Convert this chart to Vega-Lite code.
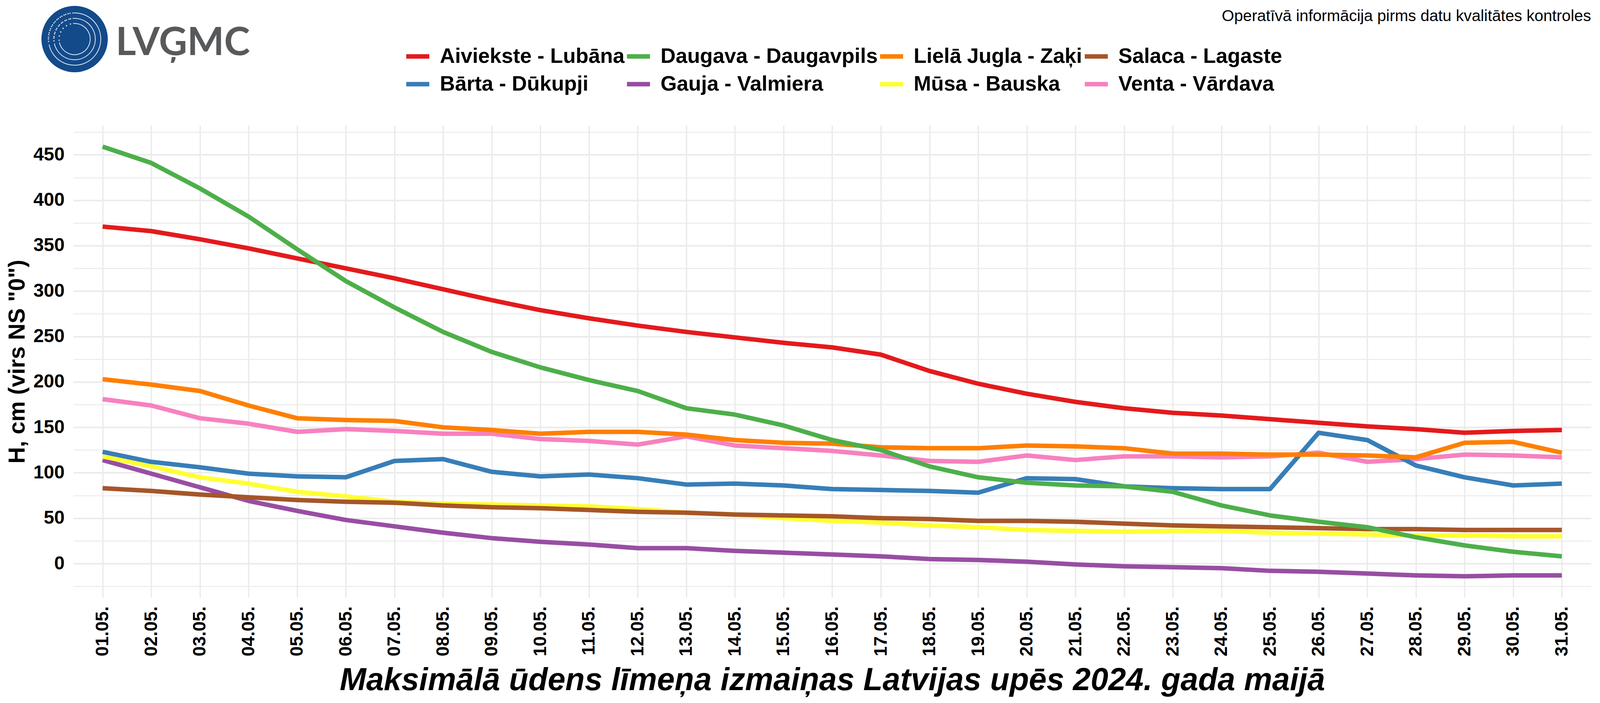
{
"$schema":"https://vega.github.io/schema/vega-lite/v6.json",
"autosize":{"type":"none"},
"padding":{"left":188,"top":321,"right":23,"bottom":270},
"width":3885,
"height":1209,
"background":"white",
"config":{"view":{"stroke":null},"font":"Liberation Sans"},
"title":{"text":"Operatīvā informācija pirms datu kvalitātes kontroles","anchor":"end","frame":"group","fontSize":40.7,"fontWeight":"normal","color":"black","offset":-48},
"resolve":{"axis":{"x":"independent","y":"independent"}},
"layer":[
{"data":{"values":[
{"day":1,"river":"Aiviekste - Lubāna","H":371},{"day":2,"river":"Aiviekste - Lubāna","H":366},{"day":3,"river":"Aiviekste - Lubāna","H":357},{"day":4,"river":"Aiviekste - Lubāna","H":347},{"day":5,"river":"Aiviekste - Lubāna","H":336},{"day":6,"river":"Aiviekste - Lubāna","H":325},{"day":7,"river":"Aiviekste - Lubāna","H":314},{"day":8,"river":"Aiviekste - Lubāna","H":302},{"day":9,"river":"Aiviekste - Lubāna","H":290},{"day":10,"river":"Aiviekste - Lubāna","H":279},{"day":11,"river":"Aiviekste - Lubāna","H":270},{"day":12,"river":"Aiviekste - Lubāna","H":262},{"day":13,"river":"Aiviekste - Lubāna","H":255},{"day":14,"river":"Aiviekste - Lubāna","H":249},{"day":15,"river":"Aiviekste - Lubāna","H":243},{"day":16,"river":"Aiviekste - Lubāna","H":238},{"day":17,"river":"Aiviekste - Lubāna","H":230},{"day":18,"river":"Aiviekste - Lubāna","H":212},{"day":19,"river":"Aiviekste - Lubāna","H":198},{"day":20,"river":"Aiviekste - Lubāna","H":187},{"day":21,"river":"Aiviekste - Lubāna","H":178},{"day":22,"river":"Aiviekste - Lubāna","H":171},{"day":23,"river":"Aiviekste - Lubāna","H":166},{"day":24,"river":"Aiviekste - Lubāna","H":163},{"day":25,"river":"Aiviekste - Lubāna","H":159},{"day":26,"river":"Aiviekste - Lubāna","H":155},{"day":27,"river":"Aiviekste - Lubāna","H":151},{"day":28,"river":"Aiviekste - Lubāna","H":148},{"day":29,"river":"Aiviekste - Lubāna","H":144},{"day":30,"river":"Aiviekste - Lubāna","H":146},{"day":31,"river":"Aiviekste - Lubāna","H":147},
{"day":1,"river":"Gauja - Valmiera","H":114},{"day":2,"river":"Gauja - Valmiera","H":99},{"day":3,"river":"Gauja - Valmiera","H":84},{"day":4,"river":"Gauja - Valmiera","H":69},{"day":5,"river":"Gauja - Valmiera","H":58},{"day":6,"river":"Gauja - Valmiera","H":48},{"day":7,"river":"Gauja - Valmiera","H":41},{"day":8,"river":"Gauja - Valmiera","H":34},{"day":9,"river":"Gauja - Valmiera","H":28},{"day":10,"river":"Gauja - Valmiera","H":24},{"day":11,"river":"Gauja - Valmiera","H":21},{"day":12,"river":"Gauja - Valmiera","H":17},{"day":13,"river":"Gauja - Valmiera","H":17},{"day":14,"river":"Gauja - Valmiera","H":14},{"day":15,"river":"Gauja - Valmiera","H":12},{"day":16,"river":"Gauja - Valmiera","H":10},{"day":17,"river":"Gauja - Valmiera","H":8},{"day":18,"river":"Gauja - Valmiera","H":5},{"day":19,"river":"Gauja - Valmiera","H":4},{"day":20,"river":"Gauja - Valmiera","H":2},{"day":21,"river":"Gauja - Valmiera","H":-1},{"day":22,"river":"Gauja - Valmiera","H":-3},{"day":23,"river":"Gauja - Valmiera","H":-4},{"day":24,"river":"Gauja - Valmiera","H":-5},{"day":25,"river":"Gauja - Valmiera","H":-8},{"day":26,"river":"Gauja - Valmiera","H":-9},{"day":27,"river":"Gauja - Valmiera","H":-11},{"day":28,"river":"Gauja - Valmiera","H":-13},{"day":29,"river":"Gauja - Valmiera","H":-14},{"day":30,"river":"Gauja - Valmiera","H":-13},{"day":31,"river":"Gauja - Valmiera","H":-13},
{"day":1,"river":"Mūsa - Bauska","H":118},{"day":2,"river":"Mūsa - Bauska","H":107},{"day":3,"river":"Mūsa - Bauska","H":95},{"day":4,"river":"Mūsa - Bauska","H":88},{"day":5,"river":"Mūsa - Bauska","H":79},{"day":6,"river":"Mūsa - Bauska","H":74},{"day":7,"river":"Mūsa - Bauska","H":68},{"day":8,"river":"Mūsa - Bauska","H":66},{"day":9,"river":"Mūsa - Bauska","H":65},{"day":10,"river":"Mūsa - Bauska","H":64},{"day":11,"river":"Mūsa - Bauska","H":63},{"day":12,"river":"Mūsa - Bauska","H":60},{"day":13,"river":"Mūsa - Bauska","H":56},{"day":14,"river":"Mūsa - Bauska","H":54},{"day":15,"river":"Mūsa - Bauska","H":50},{"day":16,"river":"Mūsa - Bauska","H":47},{"day":17,"river":"Mūsa - Bauska","H":45},{"day":18,"river":"Mūsa - Bauska","H":42},{"day":19,"river":"Mūsa - Bauska","H":40},{"day":20,"river":"Mūsa - Bauska","H":37},{"day":21,"river":"Mūsa - Bauska","H":36},{"day":22,"river":"Mūsa - Bauska","H":35},{"day":23,"river":"Mūsa - Bauska","H":36},{"day":24,"river":"Mūsa - Bauska","H":36},{"day":25,"river":"Mūsa - Bauska","H":34},{"day":26,"river":"Mūsa - Bauska","H":33},{"day":27,"river":"Mūsa - Bauska","H":32},{"day":28,"river":"Mūsa - Bauska","H":31},{"day":29,"river":"Mūsa - Bauska","H":31},{"day":30,"river":"Mūsa - Bauska","H":30},{"day":31,"river":"Mūsa - Bauska","H":30},
{"day":1,"river":"Salaca - Lagaste","H":83},{"day":2,"river":"Salaca - Lagaste","H":80},{"day":3,"river":"Salaca - Lagaste","H":76},{"day":4,"river":"Salaca - Lagaste","H":73},{"day":5,"river":"Salaca - Lagaste","H":70},{"day":6,"river":"Salaca - Lagaste","H":68},{"day":7,"river":"Salaca - Lagaste","H":67},{"day":8,"river":"Salaca - Lagaste","H":64},{"day":9,"river":"Salaca - Lagaste","H":62},{"day":10,"river":"Salaca - Lagaste","H":61},{"day":11,"river":"Salaca - Lagaste","H":59},{"day":12,"river":"Salaca - Lagaste","H":57},{"day":13,"river":"Salaca - Lagaste","H":56},{"day":14,"river":"Salaca - Lagaste","H":54},{"day":15,"river":"Salaca - Lagaste","H":53},{"day":16,"river":"Salaca - Lagaste","H":52},{"day":17,"river":"Salaca - Lagaste","H":50},{"day":18,"river":"Salaca - Lagaste","H":49},{"day":19,"river":"Salaca - Lagaste","H":47},{"day":20,"river":"Salaca - Lagaste","H":47},{"day":21,"river":"Salaca - Lagaste","H":46},{"day":22,"river":"Salaca - Lagaste","H":44},{"day":23,"river":"Salaca - Lagaste","H":42},{"day":24,"river":"Salaca - Lagaste","H":41},{"day":25,"river":"Salaca - Lagaste","H":40},{"day":26,"river":"Salaca - Lagaste","H":39},{"day":27,"river":"Salaca - Lagaste","H":38},{"day":28,"river":"Salaca - Lagaste","H":38},{"day":29,"river":"Salaca - Lagaste","H":37},{"day":30,"river":"Salaca - Lagaste","H":37},{"day":31,"river":"Salaca - Lagaste","H":37},
{"day":1,"river":"Venta - Vārdava","H":181},{"day":2,"river":"Venta - Vārdava","H":174},{"day":3,"river":"Venta - Vārdava","H":160},{"day":4,"river":"Venta - Vārdava","H":154},{"day":5,"river":"Venta - Vārdava","H":145},{"day":6,"river":"Venta - Vārdava","H":148},{"day":7,"river":"Venta - Vārdava","H":146},{"day":8,"river":"Venta - Vārdava","H":143},{"day":9,"river":"Venta - Vārdava","H":143},{"day":10,"river":"Venta - Vārdava","H":137},{"day":11,"river":"Venta - Vārdava","H":135},{"day":12,"river":"Venta - Vārdava","H":131},{"day":13,"river":"Venta - Vārdava","H":140},{"day":14,"river":"Venta - Vārdava","H":130},{"day":15,"river":"Venta - Vārdava","H":127},{"day":16,"river":"Venta - Vārdava","H":124},{"day":17,"river":"Venta - Vārdava","H":119},{"day":18,"river":"Venta - Vārdava","H":113},{"day":19,"river":"Venta - Vārdava","H":112},{"day":20,"river":"Venta - Vārdava","H":119},{"day":21,"river":"Venta - Vārdava","H":114},{"day":22,"river":"Venta - Vārdava","H":118},{"day":23,"river":"Venta - Vārdava","H":118},{"day":24,"river":"Venta - Vārdava","H":117},{"day":25,"river":"Venta - Vārdava","H":118},{"day":26,"river":"Venta - Vārdava","H":122},{"day":27,"river":"Venta - Vārdava","H":112},{"day":28,"river":"Venta - Vārdava","H":115},{"day":29,"river":"Venta - Vārdava","H":120},{"day":30,"river":"Venta - Vārdava","H":119},{"day":31,"river":"Venta - Vārdava","H":117},
{"day":1,"river":"Bārta - Dūkupji","H":123},{"day":2,"river":"Bārta - Dūkupji","H":112},{"day":3,"river":"Bārta - Dūkupji","H":106},{"day":4,"river":"Bārta - Dūkupji","H":99},{"day":5,"river":"Bārta - Dūkupji","H":96},{"day":6,"river":"Bārta - Dūkupji","H":95},{"day":7,"river":"Bārta - Dūkupji","H":113},{"day":8,"river":"Bārta - Dūkupji","H":115},{"day":9,"river":"Bārta - Dūkupji","H":101},{"day":10,"river":"Bārta - Dūkupji","H":96},{"day":11,"river":"Bārta - Dūkupji","H":98},{"day":12,"river":"Bārta - Dūkupji","H":94},{"day":13,"river":"Bārta - Dūkupji","H":87},{"day":14,"river":"Bārta - Dūkupji","H":88},{"day":15,"river":"Bārta - Dūkupji","H":86},{"day":16,"river":"Bārta - Dūkupji","H":82},{"day":17,"river":"Bārta - Dūkupji","H":81},{"day":18,"river":"Bārta - Dūkupji","H":80},{"day":19,"river":"Bārta - Dūkupji","H":78},{"day":20,"river":"Bārta - Dūkupji","H":94},{"day":21,"river":"Bārta - Dūkupji","H":93},{"day":22,"river":"Bārta - Dūkupji","H":85},{"day":23,"river":"Bārta - Dūkupji","H":83},{"day":24,"river":"Bārta - Dūkupji","H":82},{"day":25,"river":"Bārta - Dūkupji","H":82},{"day":26,"river":"Bārta - Dūkupji","H":144},{"day":27,"river":"Bārta - Dūkupji","H":136},{"day":28,"river":"Bārta - Dūkupji","H":108},{"day":29,"river":"Bārta - Dūkupji","H":95},{"day":30,"river":"Bārta - Dūkupji","H":86},{"day":31,"river":"Bārta - Dūkupji","H":88},
{"day":1,"river":"Lielā Jugla - Zaķi","H":203},{"day":2,"river":"Lielā Jugla - Zaķi","H":197},{"day":3,"river":"Lielā Jugla - Zaķi","H":190},{"day":4,"river":"Lielā Jugla - Zaķi","H":174},{"day":5,"river":"Lielā Jugla - Zaķi","H":160},{"day":6,"river":"Lielā Jugla - Zaķi","H":158},{"day":7,"river":"Lielā Jugla - Zaķi","H":157},{"day":8,"river":"Lielā Jugla - Zaķi","H":150},{"day":9,"river":"Lielā Jugla - Zaķi","H":147},{"day":10,"river":"Lielā Jugla - Zaķi","H":143},{"day":11,"river":"Lielā Jugla - Zaķi","H":145},{"day":12,"river":"Lielā Jugla - Zaķi","H":145},{"day":13,"river":"Lielā Jugla - Zaķi","H":142},{"day":14,"river":"Lielā Jugla - Zaķi","H":136},{"day":15,"river":"Lielā Jugla - Zaķi","H":133},{"day":16,"river":"Lielā Jugla - Zaķi","H":132},{"day":17,"river":"Lielā Jugla - Zaķi","H":128},{"day":18,"river":"Lielā Jugla - Zaķi","H":127},{"day":19,"river":"Lielā Jugla - Zaķi","H":127},{"day":20,"river":"Lielā Jugla - Zaķi","H":130},{"day":21,"river":"Lielā Jugla - Zaķi","H":129},{"day":22,"river":"Lielā Jugla - Zaķi","H":127},{"day":23,"river":"Lielā Jugla - Zaķi","H":121},{"day":24,"river":"Lielā Jugla - Zaķi","H":121},{"day":25,"river":"Lielā Jugla - Zaķi","H":120},{"day":26,"river":"Lielā Jugla - Zaķi","H":120},{"day":27,"river":"Lielā Jugla - Zaķi","H":119},{"day":28,"river":"Lielā Jugla - Zaķi","H":117},{"day":29,"river":"Lielā Jugla - Zaķi","H":133},{"day":30,"river":"Lielā Jugla - Zaķi","H":134},{"day":31,"river":"Lielā Jugla - Zaķi","H":122},
{"day":1,"river":"Daugava - Daugavpils","H":459},{"day":2,"river":"Daugava - Daugavpils","H":441},{"day":3,"river":"Daugava - Daugavpils","H":413},{"day":4,"river":"Daugava - Daugavpils","H":382},{"day":5,"river":"Daugava - Daugavpils","H":346},{"day":6,"river":"Daugava - Daugavpils","H":311},{"day":7,"river":"Daugava - Daugavpils","H":282},{"day":8,"river":"Daugava - Daugavpils","H":255},{"day":9,"river":"Daugava - Daugavpils","H":233},{"day":10,"river":"Daugava - Daugavpils","H":216},{"day":11,"river":"Daugava - Daugavpils","H":202},{"day":12,"river":"Daugava - Daugavpils","H":190},{"day":13,"river":"Daugava - Daugavpils","H":171},{"day":14,"river":"Daugava - Daugavpils","H":164},{"day":15,"river":"Daugava - Daugavpils","H":152},{"day":16,"river":"Daugava - Daugavpils","H":136},{"day":17,"river":"Daugava - Daugavpils","H":125},{"day":18,"river":"Daugava - Daugavpils","H":107},{"day":19,"river":"Daugava - Daugavpils","H":95},{"day":20,"river":"Daugava - Daugavpils","H":89},{"day":21,"river":"Daugava - Daugavpils","H":86},{"day":22,"river":"Daugava - Daugavpils","H":85},{"day":23,"river":"Daugava - Daugavpils","H":79},{"day":24,"river":"Daugava - Daugavpils","H":64},{"day":25,"river":"Daugava - Daugavpils","H":53},{"day":26,"river":"Daugava - Daugavpils","H":46},{"day":27,"river":"Daugava - Daugavpils","H":40},{"day":28,"river":"Daugava - Daugavpils","H":29},{"day":29,"river":"Daugava - Daugavpils","H":20},{"day":30,"river":"Daugava - Daugavpils","H":13},{"day":31,"river":"Daugava - Daugavpils","H":8}
]},
"mark":{"type":"line","strokeWidth":11.5,"strokeCap":"butt","strokeJoin":"round"},
"encoding":{
"x":{"field":"day","type":"quantitative","scale":{"domain":[0.4,31.6],"nice":false,"zero":false},
"axis":{"values":[1,2,3,4,5,6,7,8,9,10,11,12,13,14,15,16,17,18,19,20,21,22,23,24,25,26,27,28,29,30,31],"labelExpr":"(datum.value < 10 ? '0' : '') + datum.value + '.05.'","labelAngle":-90,"labelFontSize":46,"labelFontWeight":"bold","labelColor":"black","labelPadding":22,"labelOverlap":false,"labelFlush":false,"ticks":false,"domain":false,"gridColor":"#EBEBEB","gridWidth":3.5,"title":"Maksimālā ūdens līmeņa izmaiņas Latvijas upēs 2024. gada maijā","titleFontSize":81.2,"titleFontWeight":"bold","titleFontStyle":"italic","titleColor":"black","titlePadding":23}},
"y":{"field":"H","type":"quantitative","scale":{"domain":[-37.4,482.4],"nice":false,"zero":false},
"axis":{"values":[-25,0,25,50,75,100,125,150,175,200,225,250,275,300,325,350,375,400,425,450,475],"labelExpr":"datum.value % 50 === 0 ? datum.label : ''","labelFontSize":48,"labelFontWeight":"bold","labelColor":"black","labelPadding":23,"labelOverlap":false,"labelFlush":false,"ticks":false,"domain":false,"gridColor":"#EBEBEB","gridWidth":{"condition":{"test":"datum.value % 50 === 0","value":4},"value":2.3},"title":"H, cm (virs NS \"0\")","titleFontSize":58.7,"titleFontWeight":"bold","titleColor":"black","titlePadding":10}},
"color":{"field":"river","type":"nominal",
"scale":{"domain":["Aiviekste - Lubāna","Bārta - Dūkupji","Daugava - Daugavpils","Gauja - Valmiera","Lielā Jugla - Zaķi","Mūsa - Bauska","Salaca - Lagaste","Venta - Vārdava"],"range":["#E41A1C","#377EB8","#4DAF4A","#984EA3","#FF7F00","#FFFF33","#A65628","#F781BF"]},
"legend":{"title":null,"orient":"none","legendX":846,"legendY":-212,"direction":"vertical","columns":4,"symbolType":"stroke","symbolSize":3481,"symbolStrokeWidth":11.5,"labelFontSize":53.5,"labelFontWeight":"bold","labelColor":"black","labelOffset":21,"labelLimit":900,"labelExpr":"datum.label === 'Lielā Jugla - Zaķi' ? datum.label + '\u00a0\u00a0\u00a0\u00a0\u00a0' : datum.label","rowPadding":9,"columnPadding":-36}}
}},
{"data":{"values":[{"logo":"LVĢMC"}]},"mark":{"type":"point","filled":true,"color":"#134A8A","opacity":1},
"encoding":{"x":{"datum":0.424,"type":"quantitative","scale":{"domain":[0.4,31.6],"nice":false,"zero":false},"axis":null},"y":{"datum":577.4,"type":"quantitative","scale":{"domain":[-37.4,482.4],"nice":false,"zero":false},"axis":null},"size":{"value":28900}}},
{"data":{"values":[{"logo":"LVĢMC"}]},"mark":{"type":"arc","radius":41,"radius2":39,"theta":-0.1,"theta2":4.5,"color":"#DCE6F2"},
"encoding":{"x":{"datum":0.424,"type":"quantitative","scale":{"domain":[0.4,31.6],"nice":false,"zero":false},"axis":null},"y":{"datum":577.4,"type":"quantitative","scale":{"domain":[-37.4,482.4],"nice":false,"zero":false},"axis":null}}},
{"data":{"values":[{"logo":"LVĢMC"}]},"mark":{"type":"arc","radius":54,"radius2":52,"theta":-0.1,"theta2":4.5,"color":"#DCE6F2"},
"encoding":{"x":{"datum":0.424,"type":"quantitative","scale":{"domain":[0.4,31.6],"nice":false,"zero":false},"axis":null},"y":{"datum":577.4,"type":"quantitative","scale":{"domain":[-37.4,482.4],"nice":false,"zero":false},"axis":null}}},
{"data":{"values":[{"logo":"LVĢMC"}]},"mark":{"type":"arc","radius":68,"radius2":66,"theta":-0.1,"theta2":4.5,"color":"#DCE6F2"},
"encoding":{"x":{"datum":0.424,"type":"quantitative","scale":{"domain":[0.4,31.6],"nice":false,"zero":false},"axis":null},"y":{"datum":577.4,"type":"quantitative","scale":{"domain":[-37.4,482.4],"nice":false,"zero":false},"axis":null}}},
{"data":{"values":[{"logo":"LVĢMC"}]},"mark":{"type":"arc","radius":40,"radius2":40,"theta":4.6,"theta2":6.15,"fillOpacity":0,"stroke":"#DCE6F2","strokeWidth":3,"strokeDash":[3,8]},
"encoding":{"x":{"datum":0.424,"type":"quantitative","scale":{"domain":[0.4,31.6],"nice":false,"zero":false},"axis":null},"y":{"datum":577.4,"type":"quantitative","scale":{"domain":[-37.4,482.4],"nice":false,"zero":false},"axis":null}}},
{"data":{"values":[{"logo":"LVĢMC"}]},"mark":{"type":"arc","radius":53,"radius2":53,"theta":4.6,"theta2":6.15,"fillOpacity":0,"stroke":"#DCE6F2","strokeWidth":3,"strokeDash":[3,8]},
"encoding":{"x":{"datum":0.424,"type":"quantitative","scale":{"domain":[0.4,31.6],"nice":false,"zero":false},"axis":null},"y":{"datum":577.4,"type":"quantitative","scale":{"domain":[-37.4,482.4],"nice":false,"zero":false},"axis":null}}},
{"data":{"values":[{"logo":"LVĢMC"}]},"mark":{"type":"arc","radius":67,"radius2":67,"theta":4.6,"theta2":6.15,"fillOpacity":0,"stroke":"#DCE6F2","strokeWidth":3,"strokeDash":[3,8]},
"encoding":{"x":{"datum":0.424,"type":"quantitative","scale":{"domain":[0.4,31.6],"nice":false,"zero":false},"axis":null},"y":{"datum":577.4,"type":"quantitative","scale":{"domain":[-37.4,482.4],"nice":false,"zero":false},"axis":null}}},
{"data":{"values":[{"logo":"LVĢMC"}]},"mark":{"type":"text","font":"Lato","fontWeight":"bold","fontSize":100,"color":"#58595B","align":"left","baseline":"alphabetic"},
"encoding":{"text":{"field":"logo"},"x":{"datum":1.269,"type":"quantitative","scale":{"domain":[0.4,31.6],"nice":false,"zero":false},"axis":null},"y":{"datum":560,"type":"quantitative","scale":{"domain":[-37.4,482.4],"nice":false,"zero":false},"axis":null}}}
]
}
